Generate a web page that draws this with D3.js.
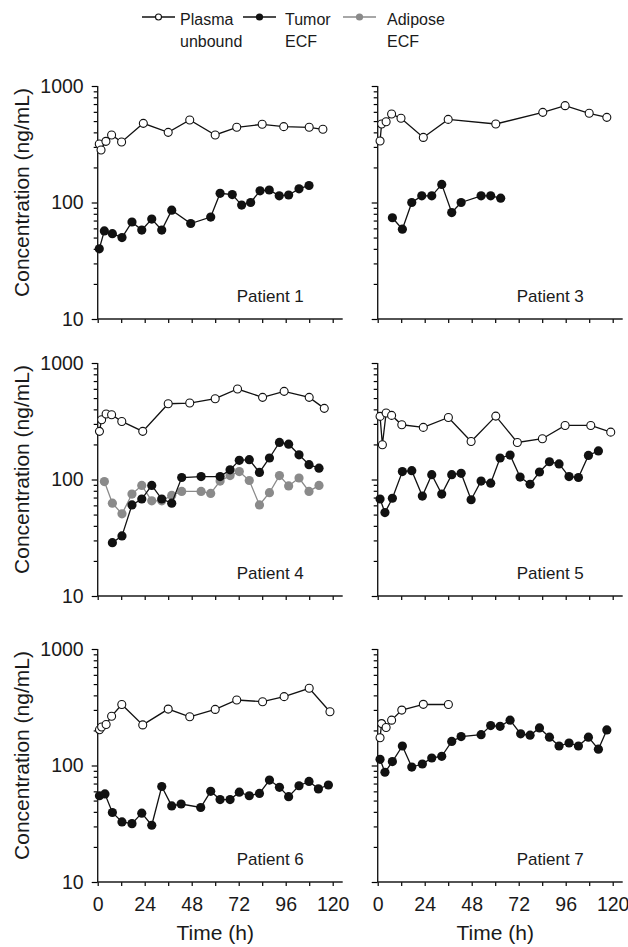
<!DOCTYPE html>
<html>
<head>
<meta charset="utf-8">
<script src="https://cdn.jsdelivr.net/npm/d3@7"></script>
<style>
  body { margin: 0; background: #fff; }
  text { font-family: "Liberation Sans", Arial, Helvetica, sans-serif; fill: #1a1a1a; }
</style>
</head>
<body>
<svg id="chart" width="628" height="947"></svg>
<script>
// values: [time (h), concentration (ng/mL)]
const p1Plasma = [[0.8,318],[1.7,282],[4.2,335],[7.1,380],[12.2,331],[23.3,478],[36,400],[47,511],[60,380],[71,442],[84,469],[95,448],[108,442],[115,425]];
const p1Tumor = [[0.8,40],[3.4,57],[7.5,54],[12.4,50],[17.5,68],[22.5,58],[27.6,72],[32.7,58],[37.8,86],[47.5,66],[57.7,75],[62.5,120],[68.7,117],[73.5,95],[78.1,100],[82.9,126],[87.6,128],[92.7,114],[97.5,116],[102.8,131],[107.9,140]];
const p3Plasma = [[1.2,337],[2,472],[4.3,494],[7.1,575],[11.9,528],[23.3,362],[36,517],[60.3,472],[84.3,594],[95.7,678],[108,583],[117,538]];
const p3Tumor = [[7.5,74],[12.6,59],[17.4,100],[22.5,114],[27.6,114],[32.7,143],[37.8,82],[42.6,100],[52.8,114],[57.7,114],[62.8,109]];
const p4Plasma = [[0.9,259],[2,326],[4.3,365],[7.1,360],[12.3,315],[23,259],[36,447],[47,453],[60,494],[71.4,598],[84.2,507],[95.2,571],[108,507],[115.7,408]];
const p4Tumor = [[7.5,28.7],[12.4,32.8],[17.5,60.5],[22.5,68],[27.6,89],[32.7,68],[37.8,62.6],[42.9,104],[52.8,106],[62.5,106],[67.6,121],[72.3,146],[77.4,148],[82.6,115],[87.7,153],[92.8,208],[97.5,201],[102.8,163],[107.9,134],[113,125]];
const p4Adipose = [[3.4,96],[7.5,62.6],[12.4,50.7],[17.5,75],[22.5,89],[27.6,65.6],[32.7,65.6],[37.8,73],[42.9,79],[52.8,79],[57.7,76],[62.5,97],[67.6,108],[72.3,117],[77.4,98],[82.6,60.5],[87.7,77],[92.8,108],[97.5,88],[102.8,103],[107.9,79],[113,89]];
const p5Plasma = [[1.2,348],[2.4,199],[4.3,372],[7.1,355],[12.3,295],[23.3,280],[36.1,341],[47.7,212],[60.3,350],[71.3,208],[84.1,224],[95.7,291],[108.8,291],[119,255]];
const p5Tumor = [[1.2,68],[3.7,52],[7.5,69],[12.6,117],[17.4,119],[22.8,72],[27.6,110],[32.7,75],[37.8,110],[42.6,113],[47.7,67],[52.8,97],[57.7,93],[62.5,153],[67.6,162],[72.7,105],[77.8,91],[82.6,116],[87.7,142],[92.6,136],[97.7,106],[102.5,104],[107.6,161],[112.7,176]];
const p6Plasma = [[0.9,203],[2,214],[4.3,225],[7.1,265],[12.3,334],[23,223],[36,305],[47,262],[60,303],[71,365],[84.2,353],[95.2,390],[108,460],[118.6,289]];
const p6Tumor = [[0.9,55],[3.7,57],[7.5,39.5],[12.4,32.8],[17.5,31.7],[22.5,39],[27.6,30.7],[32.7,66],[37.8,45],[42.6,46.7],[52.6,43.6],[57.7,60],[62.5,51],[67.6,51],[72.3,59],[77.4,55],[82.6,57.6],[87.7,75],[92.8,65],[97.5,54],[102.8,67],[107.9,73],[112.7,63],[117.8,68]];
const p7Plasma = [[1.2,173],[2,229],[4.3,212],[7.1,245],[12.3,299],[23.3,335],[36.1,334]];
const p7Tumor = [[1.2,113],[3.7,87.5],[7.5,108],[12.6,147],[17.4,97],[22.8,103],[27.6,116],[32.7,120],[37.8,161],[42.6,177],[52.8,184],[57.7,220],[62.5,217],[67.6,245],[73,187],[77.8,182],[82.6,210],[87.7,175],[92.6,147],[97.7,156],[102.5,147],[107.6,175],[112.7,138],[117,202]];

const patients = ['Patient 1', 'Patient 3', 'Patient 4', 'Patient 5', 'Patient 6', 'Patient 7'];
const plasmaSets = [p1Plasma, p3Plasma, p4Plasma, p5Plasma, p6Plasma, p7Plasma];
const tumorSets = [p1Tumor, p3Tumor, p4Tumor, p5Tumor, p6Tumor, p7Tumor];
const adiposeSets = [null, null, p4Adipose, null, null, null];

const seriesNames = [['Plasma', 'unbound'], ['Tumor', 'ECF'], ['Adipose', 'ECF']];
const xTicks = d3.range(0, 121, 12);
const yMajor = [10, 100, 1000];
const yTicks = [10,20,30,40,50,60,70,80,90,100,200,300,400,500,600,700,800,900,1000];

const GRAY = '#8a8a8a';
const colLeft = [97.7, 377.7];
const rowTop = [86, 363, 649];
const pw = 235, ph = 233;

const svg = d3.select('#chart');

patients.forEach((name, i) => {
  const col = i % 2, row = Math.floor(i / 2);
  const x0 = colLeft[col], y0 = rowTop[row];
  const g = svg.append('g').attr('transform', `translate(${x0},${y0})`);

  const x = d3.scaleLinear().domain([0, 120]).range([0, pw]);
  const y = d3.scaleLog().domain([10, 1000]).range([ph, 0]);

  // y axis
  const ya = g.append('g')
    .call(d3.axisLeft(y).tickValues(yTicks).tickSize(4).tickSizeOuter(0).tickPadding(10)
      .tickFormat(d => (col === 0 && yMajor.includes(d)) ? d : ''));
  ya.select('.domain').remove();
  ya.selectAll('.tick line').attr('x2', d => yMajor.includes(d) ? -6 : -4).attr('stroke-width', 1.2);
  ya.selectAll('.tick text').attr('font-size', 19.5).attr('font-family', null);
  g.append('line').attr('x1', 0).attr('x2', 0).attr('y1', 0).attr('y2', ph)
    .attr('stroke', '#1a1a1a').attr('stroke-width', 1.4);

  // x axis
  const xa = g.append('g').attr('transform', `translate(0,${ph})`)
    .call(d3.axisBottom(x).tickValues(xTicks).tickSize(4).tickSizeOuter(0).tickPadding(11)
      .tickFormat(d => (row === 2 && d % 24 === 0) ? d : ''));
  xa.select('.domain').remove();
  xa.selectAll('.tick line').attr('stroke-width', 1.2);
  xa.selectAll('.tick text').attr('font-size', 19.5).attr('font-family', null);
  g.append('line').attr('x1', 0).attr('x2', pw + 10).attr('y1', ph).attr('y2', ph)
    .attr('stroke', '#1a1a1a').attr('stroke-width', 1.4);

  const line = d3.line().x(d => x(d[0])).y(d => y(d[1]));

  function drawSeries(data, color, open) {
    if (!data) return;
    g.append('path').datum(data).attr('d', line)
      .attr('fill', 'none').attr('stroke', color).attr('stroke-width', 1.3);
    g.selectAll(null).data(data).enter().append('circle')
      .attr('cx', d => x(d[0])).attr('cy', d => y(d[1]))
      .attr('r', open ? 4 : 4.6)
      .attr('fill', open ? '#fff' : color)
      .attr('stroke', color).attr('stroke-width', open ? 1.1 : 0);
  }
  drawSeries(adiposeSets[i], GRAY, false);
  drawSeries(tumorSets[i], '#111', false);
  drawSeries(plasmaSets[i], '#111', true);

  g.append('text').attr('x', 139).attr('y', ph - 17)
    .attr('font-size', 17).text(name);

  if (col === 0) {
    g.append('text')
      .attr('transform', `translate(${29 - x0},${ph / 2 - 10}) rotate(-90)`)
      .attr('text-anchor', 'middle').attr('font-size', 21)
      .text('Concentration (ng/mL)');
  }
  if (row === 2) {
    g.append('text').attr('x', x(60)).attr('y', ph + 58)
      .attr('text-anchor', 'middle').attr('font-size', 21)
      .text('Time (h)');
  }
});

// legend
const legX = [142, 243, 343];
const legText = [180, 285, 387];
const legColors = ['#111', '#111', GRAY];
seriesNames.forEach((lab, i) => {
  const lg = svg.append('g');
  lg.append('line').attr('x1', legX[i]).attr('x2', legX[i] + 33).attr('y1', 17).attr('y2', 17)
    .attr('stroke', legColors[i]).attr('stroke-width', 1.3);
  lg.append('circle').attr('cx', legX[i] + 16.5).attr('cy', 17).attr('r', i === 0 ? 3 : 3.6)
    .attr('fill', i === 0 ? '#fff' : legColors[i]).attr('stroke', legColors[i])
    .attr('stroke-width', i === 0 ? 1.1 : 0);
  lg.append('text').attr('x', legText[i]).attr('y', 25).attr('font-size', 16).text(lab[0]);
  lg.append('text').attr('x', legText[i]).attr('y', 47).attr('font-size', 16).text(lab[1]);
});
</script>
</body>
</html>
